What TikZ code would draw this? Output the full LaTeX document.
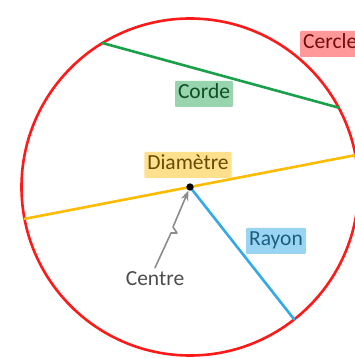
\documentclass[tikz,border=0pt]{standalone}
\usepackage{fontspec}
\setmainfont{Carlito}
\usetikzlibrary{arrows.meta}
\definecolor{rouge}{HTML}{FF1A1A}
\definecolor{vert}{HTML}{1AA04A}
\definecolor{jaune}{HTML}{FFBB00}
\definecolor{bleu}{HTML}{33AAE8}
\begin{document}
\begin{tikzpicture}[scale=1,>=Stealth, x=1pt, y=1pt, line join=round, line cap=round,
	font=\fontsize{21.5}{24}\selectfont,
	etiq/.style={inner sep=3pt, text height=15pt, text depth=5pt, rounded corners=1pt},
	trait/.style={line width=2.6pt}]
		\def\r{168.5} % rayon
		\def\xmin{-190} \def\xmax{165}
		\def\ymin{-171} \def\ymax{187}
		\useasboundingbox (\xmin,\ymin) rectangle (\xmax,\ymax);
		\clip (\xmin,\ymin) rectangle (\xmax,\ymax);
		\coordinate (C) at (0,0);
		\coordinate (A) at (121.3:\r);
		\coordinate (B) at (28.1:\r);
		\coordinate (D1) at (190.9:\r);
		\coordinate (D2) at (10.9:\r);
		\coordinate (R) at (-51.8:\r);
		\draw[trait,color=rouge] (C) circle (\r);
		\draw[trait,color=vert] (A)--(B);
		\draw[trait,color=jaune] (D1)--(D2);
		\draw[trait,color=bleu] (C)--(R);
		\node[circle,fill=black,inner sep=2.6pt] (O) at (C) {};
		\node[etiq,fill=rouge!45,text=rouge!45!black,anchor=west] (cercle) at (110,143) {Cercle};
		\node[etiq,fill=vert!45,text=vert!50!black] (corde) at (14,93) {Corde};
		\node[etiq,fill=jaune!45,text=jaune!40!black] (diam) at (-2,22) {Diamètre};
		\node[etiq,fill=bleu!50,text=bleu!55!black] (rayon) at (86,-54) {Rayon};
		\node[etiq,text=black!70] (centre) at (-35,-94) {Centre};
		\draw[->,line width=1.6pt,color=black!45] (centre.north)--(-19,-46)--(-13,-46)--(-17,-40)--(O);
\end{tikzpicture}
\end{document}
